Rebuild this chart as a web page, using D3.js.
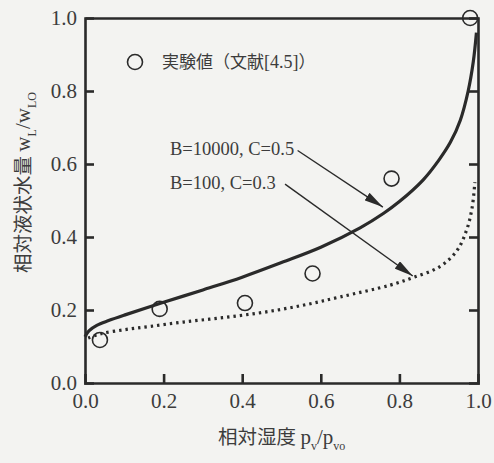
<!DOCTYPE html>
<html>
<head>
<meta charset="utf-8">
<script src="https://cdn.jsdelivr.net/npm/d3@7"></script>
<style>
  html, body { margin: 0; padding: 0; background: #f3f3f1; }
  svg { display: block; }
</style>
</head>
<body>
<svg id="chart"></svg>
<script>
// measured points (relative humidity, relative liquid water content)
const expX = [0.038, 0.19, 0.407, 0.579, 0.78, 0.98];
const expY = [0.118, 0.203, 0.219, 0.30, 0.56, 1.0];

// B=10000, C=0.5 (solid)
const solidX = [0, 0.01, 0.03, 0.06, 0.1, 0.2, 0.3, 0.4, 0.5, 0.6, 0.7, 0.76, 0.8, 0.86, 0.9, 0.93, 0.955, 0.975, 0.988, 0.996];
const solidY = [0.127, 0.143, 0.158, 0.171, 0.186, 0.221, 0.255, 0.29, 0.33, 0.372, 0.425, 0.465, 0.497, 0.556, 0.61, 0.66, 0.72, 0.8, 0.88, 0.96];

// B=100, C=0.3 (dotted)
const dotX = [0.008, 0.04, 0.1, 0.165, 0.25, 0.35, 0.45, 0.55, 0.65, 0.776, 0.835, 0.903, 0.946, 0.971, 0.985, 0.992];
const dotY = [0.123, 0.135, 0.146, 0.155, 0.167, 0.179, 0.193, 0.212, 0.236, 0.268, 0.289, 0.319, 0.362, 0.419, 0.48, 0.55];

const tickVals = [0, 0.2, 0.4, 0.6, 0.8, 1.0];
const annLabels = ["B=10000, C=0.5", "B=100, C=0.3"];
// arrow start (text side) and tip, in data units
const annArrows = [
  { from: [0.541, 0.637], to: [0.758, 0.482] },
  { from: [0.509, 0.545], to: [0.834, 0.293] }
];

const W = 494, H = 463;
const ink = "#2a2a2a";
const txt = "#3c3c3c";
const serif = "'Liberation Serif', 'Times New Roman', serif";
const cjk = "'Noto Sans CJK JP', sans-serif";

const svg = d3.select("#chart").attr("width", W).attr("height", H);

const x = d3.scaleLinear().domain([0, 1]).range([85, 478]);
const y = d3.scaleLinear().domain([0, 1]).range([383, 18]);

svg.append("defs").append("marker")
  .attr("id", "ah")
  .attr("viewBox", "0 0 19 9")
  .attr("refX", 19).attr("refY", 4.5)
  .attr("markerWidth", 19).attr("markerHeight", 9)
  .attr("markerUnits", "userSpaceOnUse")
  .attr("orient", "auto")
  .append("path")
  .attr("d", "M0,0 L19,4.5 L0,9 Z")
  .attr("fill", ink);

// axes: ticks drawn inward
const tickLen = 9;
const axB = svg.append("g").attr("transform", `translate(0,${y(0)})`)
  .call(d3.axisBottom(x).tickValues(tickVals).tickSize(-tickLen).tickPadding(10).tickFormat(d3.format(".1f")));
const axL = svg.append("g").attr("transform", `translate(${x(0)},0)`)
  .call(d3.axisLeft(y).tickValues(tickVals).tickSize(-tickLen).tickPadding(8).tickFormat(d3.format(".1f")));
const axR = svg.append("g").attr("transform", `translate(${x(1)},0)`)
  .call(d3.axisRight(y).tickValues(tickVals).tickSize(-tickLen).tickFormat(""));
const axT = svg.append("g").attr("transform", `translate(0,${y(1)})`)
  .call(d3.axisTop(x).tickValues([]).tickSizeOuter(0));

[axB, axL, axR, axT].forEach(a => {
  a.select(".domain").attr("stroke", ink).attr("stroke-width", 2.6);
  a.selectAll(".tick line").attr("stroke", ink).attr("stroke-width", 2.6);
  a.selectAll("text").attr("fill", txt).attr("font-family", serif).attr("font-size", 21);
});
axB.selectAll(".tick").filter(d => d === 0 || d === 1).select("line").remove();
axL.selectAll(".tick").filter(d => d === 0 || d === 1).select("line").remove();
axR.selectAll(".tick").filter(d => d === 0 || d === 1).select("line").remove();
axB.selectAll("text").attr("dy", "0.71em");

// curves
const lineGen = d3.line().x(d => x(d[0])).y(d => y(d[1])).curve(d3.curveCatmullRom.alpha(0.5));

svg.append("path")
  .datum(d3.zip(solidX, solidY))
  .attr("d", lineGen)
  .attr("fill", "none")
  .attr("stroke", ink)
  .attr("stroke-width", 3.2);

svg.append("path")
  .datum(d3.zip(dotX, dotY))
  .attr("d", lineGen)
  .attr("fill", "none")
  .attr("stroke", ink)
  .attr("stroke-width", 3.2)
  .attr("stroke-dasharray", "2.4,4");

// experiment points
svg.append("g").selectAll("circle")
  .data(d3.zip(expX, expY))
  .join("circle")
  .attr("cx", d => x(d[0]))
  .attr("cy", d => y(d[1]))
  .attr("r", 7.5)
  .attr("fill", "none")
  .attr("stroke", ink)
  .attr("stroke-width", 1.6);

// legend
svg.append("circle")
  .attr("cx", 135).attr("cy", 62).attr("r", 7.5)
  .attr("fill", "none").attr("stroke", ink).attr("stroke-width", 1.6);
const leg = svg.append("text")
  .attr("x", 162).attr("y", 68)
  .attr("fill", txt).attr("font-size", 17).attr("font-family", cjk);
leg.append("tspan").text("実験値（文献");
leg.append("tspan").attr("font-family", serif).attr("font-size", 18).text("[4.5]");
leg.append("tspan").text("）");

// annotations
const annBase = [155, 189];
annLabels.forEach((t, i) => {
  svg.append("text")
    .attr("x", 170).attr("y", annBase[i])
    .attr("fill", txt).attr("font-family", serif).attr("font-size", 18.5)
    .text(t);
  const a = annArrows[i];
  svg.append("line")
    .attr("x1", x(a.from[0])).attr("y1", y(a.from[1]))
    .attr("x2", x(a.to[0])).attr("y2", y(a.to[1]))
    .attr("stroke", ink).attr("stroke-width", 1.4)
    .attr("marker-end", "url(#ah)");
});

// axis titles
const xt = svg.append("text")
  .attr("x", 218).attr("y", 444)
  .attr("fill", txt).attr("font-size", 19.5).attr("font-family", cjk);
xt.append("tspan").text("相対湿度 ");
xt.append("tspan").attr("font-family", serif).attr("font-size", 21).text("p");
xt.append("tspan").attr("font-family", serif).attr("font-size", 12).attr("dy", 6).text("v");
xt.append("tspan").attr("font-family", serif).attr("font-size", 21).attr("dy", -6).text("/p");
xt.append("tspan").attr("font-family", serif).attr("font-size", 12).attr("dy", 6).text("vo");

const yt = svg.append("text")
  .attr("transform", "translate(30,273) rotate(-90)")
  .attr("fill", txt).attr("font-size", 19.5).attr("font-family", cjk);
yt.append("tspan").text("相対液状水量 ");
yt.append("tspan").attr("font-family", serif).attr("font-size", 21).text("w");
yt.append("tspan").attr("font-family", serif).attr("font-size", 12).attr("dy", 6).text("L");
yt.append("tspan").attr("font-family", serif).attr("font-size", 21).attr("dy", -6).text("/w");
yt.append("tspan").attr("font-family", serif).attr("font-size", 12).attr("dy", 6).text("LO");
</script>
</body>
</html>
